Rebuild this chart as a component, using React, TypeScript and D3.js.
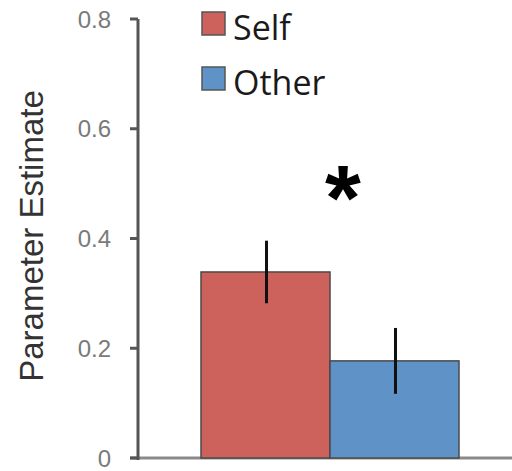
import React from "react";
import * as d3 from "d3";

const categories = ["Self", "Other"];
const values = [0.339, 0.177];
const errors = [0.057, 0.06];
const colors = ["#cd615c", "#5f93c8"];
const yTicks = [0, 0.2, 0.4, 0.6, 0.8];
const yTickLabels = ["0", "0.2", "0.4", "0.6", "0.8"];
const yTitle = "Parameter Estimate";
const sigMark = "*";

export default function App() {
  const W = 512, H = 471;
  const y = d3.scaleLinear().domain([0, 0.8]).range([458, 19]);
  const x = d3.scaleBand<string>().domain(categories).range([201, 459]).padding(0);
  const axisX = 138;
  return (
    <svg width={W} height={H} style={{ position: "absolute", left: 0, top: 0, background: "#fff" }}>
      {/* baseline */}
      <line x1={130} x2={W} y1={y(0)} y2={y(0)} stroke="#8a8a8a" strokeWidth={3} />
      {/* bars */}
      {categories.map((c, i) => (
        <rect key={c} x={x(c)!} y={y(values[i])} width={x.bandwidth()} height={y(0) - y(values[i])}
          fill={colors[i]} stroke="#4a4a4a" strokeWidth={1.5} />
      ))}
      {/* error bars */}
      {categories.map((c, i) => (
        <line key={c + "e"} x1={x(c)! + x.bandwidth() / 2 + 1} x2={x(c)! + x.bandwidth() / 2 + 1}
          y1={y(values[i] + errors[i])} y2={y(values[i] - errors[i])} stroke="#111" strokeWidth={3} />
      ))}
      {/* y axis */}
      <line x1={axisX} x2={axisX} y1={y(0.8)} y2={y(0) + 2} stroke="#555" strokeWidth={3} />
      {yTicks.map((t, i) => (
        <g key={t}>
          <line x1={axisX - 8} x2={axisX} y1={y(t)} y2={y(t)} stroke="#555" strokeWidth={3} />
          <text x={111} y={y(t)} dy="0.36em" textAnchor="end" fontFamily="Liberation Sans, Arial, sans-serif"
            fontSize={24} fill="#7a7a7a">{yTickLabels[i]}</text>
        </g>
      ))}
      <text transform={`translate(43,236) rotate(-90)`} textAnchor="middle" fontFamily="Liberation Sans, Arial, sans-serif"
        fontSize={33} fill="#333">{yTitle}</text>
      {/* legend */}
      {categories.map((c, i) => (
        <g key={c + "l"} transform={`translate(202,${12 + i * 55})`}>
          <rect x={0} y={0} width={23} height={23} fill={colors[i]} stroke="#555" strokeWidth={1.5} />
          <text x={31} y={28} fontFamily="Open Sans, sans-serif" fontWeight={500} fontSize={34} fill="#1a1a1a">{c}</text>
        </g>
      ))}
      {/* significance */}
      <text x={343} y={230} textAnchor="middle" fontFamily="Liberation Sans, Arial, sans-serif" fontWeight="bold"
        fontSize={92} fill="#000">{sigMark}</text>
    </svg>
  );
}
